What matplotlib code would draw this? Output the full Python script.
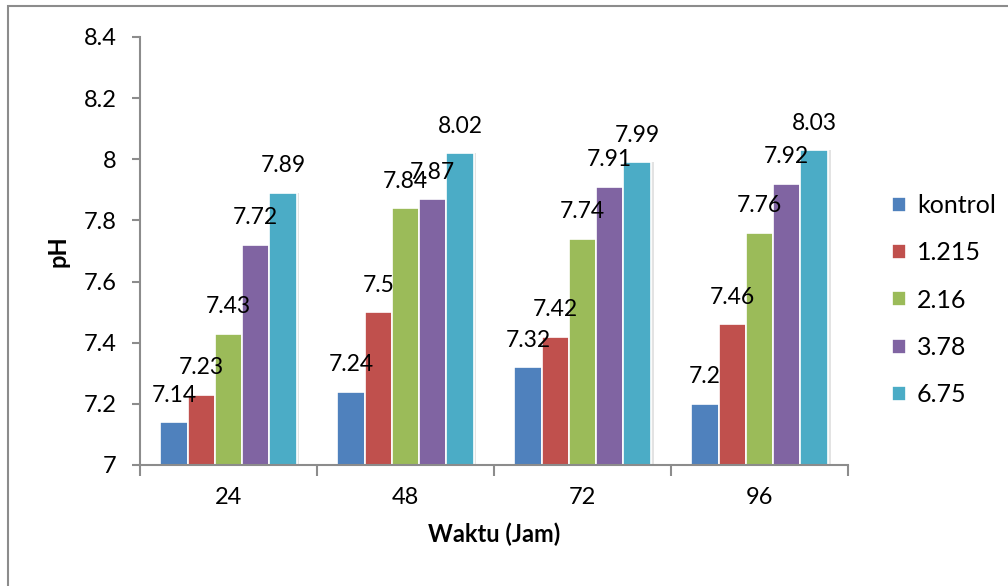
"""
pH over time for each treatment dose - clustered bar chart.
"""

import numpy as np
import matplotlib
matplotlib.use("Agg")
import matplotlib.pyplot as plt
from matplotlib.patches import Rectangle

plt.rcParams["font.family"] = ["Lato", "DejaVu Sans"]

waktu = ["24", "48", "72", "96"]
dosis = ["kontrol", "1.215", "2.16", "3.78", "6.75"]
ph_kontrol = [7.14, 7.24, 7.32, 7.20]
ph_1215 = [7.23, 7.50, 7.42, 7.46]
ph_216 = [7.43, 7.84, 7.74, 7.76]
ph_378 = [7.72, 7.87, 7.91, 7.92]
ph_675 = [7.89, 8.02, 7.99, 8.03]

series = [ph_kontrol, ph_1215, ph_216, ph_378, ph_675]
colors = ["#4F81BD", "#C0504D", "#9BBB59", "#8064A2", "#4BACC6"]

fig = plt.figure(figsize=(10.08, 5.86), dpi=100)
fig.patch.set_facecolor("white")

# chart frame (open on right/bottom, cut by the page edge)
fig.add_artist(Rectangle((8 / 1008, -0.1), 1.2, (586 - 6) / 586 + 0.1,
                         transform=fig.transFigure, fill=False,
                         edgecolor="#8c8c8c", linewidth=1.5))

ax = fig.add_axes([0.1389, 0.2065, 0.7024, 0.7304])

x = np.arange(len(waktu))
w = 0.154
base = 7.0
for i, (vals, col, name) in enumerate(zip(series, colors, dosis)):
    pos = x + (i - 2) * w
    heights = np.array(vals) - base
    # soft drop shadow to the right of each bar
    ax.bar(pos + 0.016, heights, w, bottom=base, color="#e3e3e3",
           edgecolor="none", zorder=1)
    ax.bar(pos, heights, w, bottom=base, color=col,
           edgecolor="white", linewidth=1.2, zorder=2, label=name)
    for px, v in zip(pos, vals):
        ax.annotate(f"{v:g}", (px, v), xytext=(0, 27),
                    textcoords="offset pixels",
                    ha="center", va="center", fontsize=16.5, color="black",
                    zorder=3)

ax.set_xlim(-0.5, len(waktu) - 0.5)
ax.set_ylim(7, 8.4)
ax.set_yticks(np.arange(7, 8.41, 0.2))
ax.set_yticklabels(["7", "7.2", "7.4", "7.6", "7.8", "8", "8.2", "8.4"])

ax.set_xticks(x)
ax.set_xticklabels(waktu)
ax.set_xticks(np.arange(-0.5, len(waktu), 1), minor=True)
ax.tick_params(axis="x", which="major", length=0, labelsize=17, pad=16)
ax.tick_params(axis="x", which="minor", length=8, width=1.5, color="#8c8c8c",
               direction="out")
ax.tick_params(axis="y", length=6, width=1.5, color="#8c8c8c",
               labelsize=17, pad=11)

for side in ["top", "right"]:
    ax.spines[side].set_visible(False)
for side in ["left", "bottom"]:
    ax.spines[side].set_color("#8c8c8c")
    ax.spines[side].set_linewidth(1.5)

ax.set_ylabel("pH", fontsize=17, fontweight="bold", labelpad=10)
ax.set_xlabel("Waktu (Jam)", fontsize=17, fontweight="bold", labelpad=10)

ax.legend(loc="center left", bbox_to_anchor=(1.03, 0.385), frameon=False,
          fontsize=18, handlelength=0.55, handleheight=0.55, handletextpad=0.45,
          labelspacing=0.97)

fig.savefig("out.png", dpi=100)
